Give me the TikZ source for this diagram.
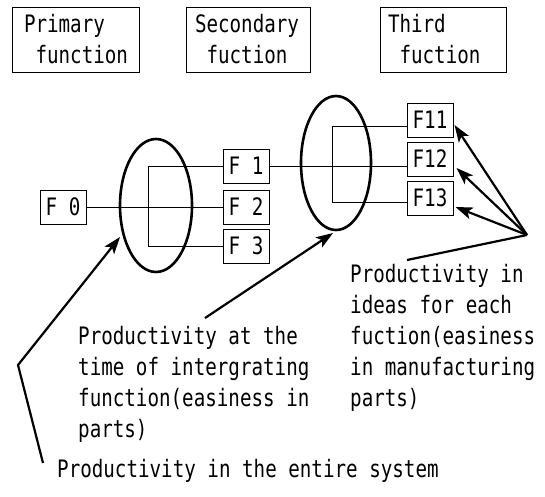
\documentclass[tikz,border=0pt]{standalone}
\usepackage{fontspec}
\newfontfamily\gfont[FakeStretch=0.8]{DejaVu Sans Mono}
\usetikzlibrary{shapes.geometric,arrows.meta}
\begin{document}
\begin{tikzpicture}[x=1pt,y=-1pt,
  gf/.style={font=\gfont\fontsize{24}{31}\selectfont},
  txt/.style={gf, inner sep=0pt, anchor=base west},
  titlebox/.style={gf, draw, line width=1pt, minimum height=65pt, inner ysep=0pt, align=left},
  fbox/.style={gf, draw, line width=1pt, minimum width=46pt, minimum height=34pt, inner sep=0pt},
  oval/.style={draw, ellipse, line width=2.6pt, inner sep=0pt},
  wire/.style={line width=1pt},
  lead/.style={line width=2.2pt},
  arr/.style={line width=2.2pt, -{Stealth[length=17pt,width=12pt,inset=4pt]}},
]
\useasboundingbox (0,0) rectangle (545,496);

% title boxes
\node[titlebox, inner xsep=12pt, text width=103pt] (T1) at (75.5,39.5) {Primary\\\phantom{f}function};
\node[titlebox, inner xsep=9pt, text width=106pt] (T2) at (248,39.5) {Secondary\\\phantom{f}fuction};
\node[titlebox, inner xsep=8pt, text width=110pt] (T3) at (443,39.5) {Third\\\phantom{f}fuction};

% ellipses
\node[oval, minimum width=72pt, minimum height=133pt] (E1) at (156,205.5) {};
\node[oval, minimum width=70pt, minimum height=134pt] (E2) at (336,163) {};

% function boxes
\node[fbox] (F0) at (63,207) {F 0};
\node[fbox] (F1) at (246,166) {F 1};
\node[fbox] (F2) at (246,207) {F 2};
\node[fbox] (F3) at (246,246) {F 3};
\node[fbox] (F11) at (430,120) {F11};
\node[fbox] (F12) at (430,159) {F12};
\node[fbox] (F13) at (430,198) {F13};

% connectors
\draw[wire] (F0.east) -- (F2.west);
\draw[wire] (F1.west) -- ++(-74,0) |- (F3.west);
\draw[wire] (F1.east) -- (F1.east -| F12.west);
\draw[wire] ([yshift=-6pt]F11.west) -- ++(-74,0) |- ([yshift=-4pt]F13.west);

% pointers
\coordinate (P) at (527,235);
\coordinate (L) at (407,260);
\draw[arr] (P) -- ([xshift=1pt,yshift=-5pt]F11.east);
\draw[arr] (P) -- ([xshift=3pt,yshift=-9pt]F12.east);
\draw[arr] (P) -- ([xshift=2pt,yshift=-9pt]F13.east);
\draw[lead] (P) -- (L);

\coordinate (A2s) at (205,318);
\coordinate (A2e) at (333,233);
\draw[arr] (A2s) -- (A2e);

\coordinate (A1s) at (43,463);
\coordinate (A1k) at (18,365);
\coordinate (A1e) at (120,237);
\draw[arr] (A1s) -- (A1k) -- (A1e);

% texts
\node[txt] (R1) at (350,282) {Productivity in};
\node[txt] (R2) at (350,313) {ideas for each};
\node[txt] (R3) at (350,344) {fuction(easiness};
\node[txt] (R4) at (350,375) {in manufacturing};
\node[txt] (R5) at (350,406) {parts)};

\node[txt] (M1) at (78,344) {Productivity at the};
\node[txt] (M2) at (78,375) {time of intergrating};
\node[txt] (M3) at (78,406) {function(easiness in};
\node[txt] (M4) at (78,437) {parts)};

\node[txt] (B1) at (57,477) {Productivity in the entire system};
\end{tikzpicture}
\end{document}
